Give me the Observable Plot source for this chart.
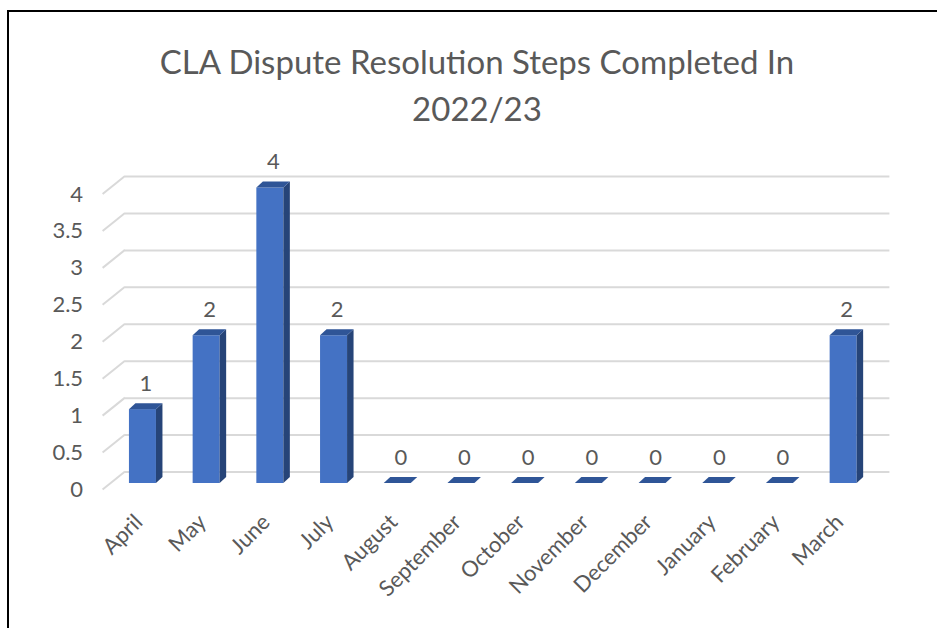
<!DOCTYPE html>
<html>
<head>
<meta charset="utf-8">
<script src="https://cdn.jsdelivr.net/npm/d3@7"></script>
<script src="https://cdn.jsdelivr.net/npm/@observablehq/plot@0.6"></script>
<style>
  html, body { margin: 0; padding: 0; background: #fff; }
  #wrap { position: relative; width: 937px; height: 628px; overflow: hidden; font-family: Lato, "Open Sans", sans-serif; }
  #frame { position: absolute; left: 7px; top: 10px; width: 940px; height: 630px;
           border-top: 2.5px solid #000; border-left: 2.5px solid #000; box-sizing: border-box; }
  #title { position: absolute; left: 0; width: 954px; top: 38px; text-align: center;
           font-size: 33px; line-height: 47px; color: #595959; }
  #chart { position: absolute; left: 0; top: 0; }
</style>
</head>
<body>
<div id="wrap">
  <div id="chart"></div>
  <div id="frame"></div>
  <div id="title">CLA Dispute Resolution Steps Completed In<br>2022/23</div>
</div>
<script>
// Financial-year months and the number of steps completed in each
const months = ["April", "May", "June", "July", "August", "September", "October",
                "November", "December", "January", "February", "March"];
const steps = [1, 2, 4, 2, 0, 0, 0, 0, 0, 0, 0, 2];
const yTicks = [0, 0.5, 1, 1.5, 2, 2.5, 3, 3.5, 4];

const data = months.map((month, i) => ({month, value: steps[i]}));

const textColor = "#595959";
const gridColor = "#d9d9d9";

// pseudo-3D offsets (pixels): back wall, front edge, bar depth
const back = {dx: 14.4, dy: -11.5};
const front = {dx: -8, dy: 6.5};
const depth = {dx: 6.5, dy: -6};

// floor/wall diagonals joining the front edge to each back gridline
function diagonals(index, scales, values, dimensions) {
  const g = d3.create("svg:g").attr("stroke", gridColor).attr("stroke-width", 2).attr("fill", "none");
  const x0 = dimensions.marginLeft;
  for (const t of yTicks) {
    const y = scales.y(t);
    g.append("line")
      .attr("x1", x0 + front.dx).attr("y1", y + front.dy)
      .attr("x2", x0 + back.dx).attr("y2", y + back.dy);
  }
  return g.node();
}

// top and side faces of each column
function faces(index, scales) {
  const sx = scales.x, sy = scales.y;
  const bw = typeof sx.bandwidth === "function" ? sx.bandwidth() : sx.bandwidth;
  const g = d3.create("svg:g");
  const pts = (arr) => arr.map(p => p.join(",")).join(" ");
  for (const d of data) {
    const x0 = sx(d.month), x1 = x0 + bw;
    const yt = sy(d.value), yb = sy(0);
    if (yb - yt > 0.5) {
      g.append("polygon").attr("fill", "#264478").attr("points", pts([
        [x1, yt], [x1 + depth.dx, yt + depth.dy], [x1 + depth.dx, yb + depth.dy], [x1, yb]
      ]));
    }
    g.append("polygon").attr("fill", "#2f5597").attr("points", pts([
      [x0, yt], [x0 + depth.dx, yt + depth.dy], [x1 + depth.dx, yt + depth.dy], [x1, yt]
    ]));
  }
  return g.node();
}

const chart = Plot.plot({
  width: 937,
  height: 628,
  marginLeft: 110.6,
  marginRight: 62,
  marginTop: 187.5,
  marginBottom: 145,
  style: {fontFamily: "Lato, 'Open Sans', sans-serif", background: "transparent"},
  x: {domain: months, paddingInner: 0.576, paddingOuter: 0.288, round: false},
  y: {domain: [0, 4]},
  marks: [
    Plot.ruleY(yTicks, {dx: back.dx, dy: back.dy, stroke: gridColor, strokeWidth: 2}),
    diagonals,
    Plot.barY(data, {x: "month", y: "value", fill: "#4472c4"}),
    faces,
    Plot.text(data, {x: "month", y: "value", text: d => String(d.value), dx: 3, dy: -19,
                     lineAnchor: "bottom", fontSize: 22, fill: textColor}),
    Plot.axisY({ticks: yTicks, tickSize: 0, tickPadding: 28, dy: front.dy, label: null,
                tickFormat: d => String(d), fontSize: 22, color: textColor}),
    Plot.axisX({tickSize: 0, tickPadding: 35, dx: -4, tickRotate: -45, label: null,
                fontSize: 22, color: textColor})
  ]
});

document.getElementById("chart").append(chart);
</script>
</body>
</html>
